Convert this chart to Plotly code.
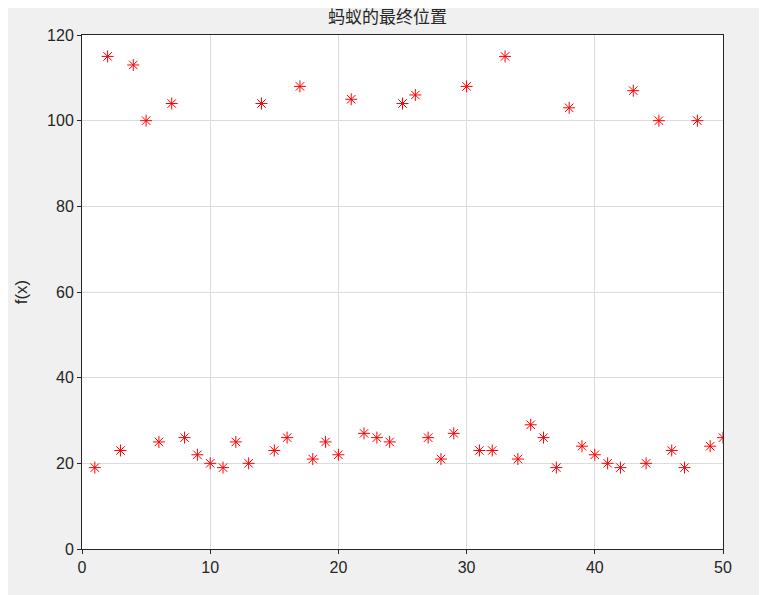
import plotly.graph_objects as go

# Ant index and final fitness values
ants = list(range(1, 51))
fx = [19, 115, 23, 113, 100, 25, 104, 26, 22, 20,
      19, 25, 20, 104, 23, 26, 108, 21, 25, 22,
      105, 27, 26, 25, 104, 106, 26, 21, 27, 108,
      23, 23, 115, 21, 29, 26, 19, 103, 24, 22,
      20, 19, 107, 20, 100, 23, 19, 100, 24, 26]

fig = go.Figure()
fig.add_trace(go.Scatter(
    x=ants, y=fx, mode='markers',
    marker=dict(symbol='asterisk-open', size=10, color='red',
                line=dict(color='red', width=1)),
))

axis_style = dict(showgrid=True, gridcolor='#dcdcdc', showline=True,
                  linecolor='#262626', mirror=True, ticks='outside',
                  ticklen=4, tickcolor='#262626', zeroline=False,
                  tickfont=dict(size=16, family='Liberation Sans, Arial', color='#262626'))

fig.update_layout(
    width=759, height=587,
    paper_bgcolor='#f0f0f0', plot_bgcolor='white',
    margin=dict(l=64, r=44, t=27, b=46),
    showlegend=False,
    font=dict(family='Noto Sans CJK SC, Arial', color='#262626'),
    title=dict(text='蚂蚁的最终位置', x=0.5, xanchor='center',
               y=0.995, yanchor='top', font=dict(size=17)),
)
fig.update_xaxes(range=[0, 50], dtick=10, **axis_style)
fig.update_yaxes(range=[0, 120], dtick=20,
                 title=dict(text='f(x)', font=dict(size=17, family='Liberation Sans, Arial')),
                 **axis_style)

fig.write_html("out.html")
